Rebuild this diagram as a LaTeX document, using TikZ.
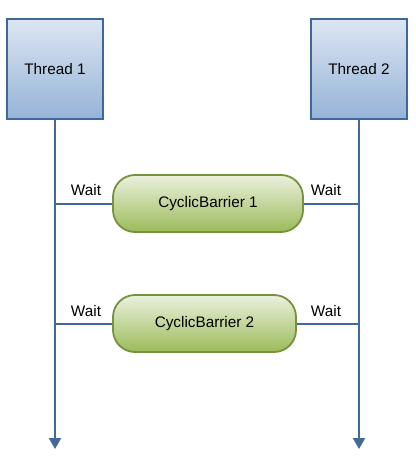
\documentclass[tikz,border=0pt]{standalone}
\usepackage{fontspec}
\setmainfont{Liberation Sans}
\usetikzlibrary{arrows.meta}
\definecolor{threadtop}{HTML}{DCE6F2}
\definecolor{threadbottom}{HTML}{95B3D7}
\definecolor{threadline}{HTML}{3F6797}
\definecolor{barriertop}{HTML}{EBF1DE}
\definecolor{barrierbottom}{HTML}{9BBB59}
\definecolor{barrierline}{HTML}{76923C}
\definecolor{flow}{HTML}{41699B}

\begin{document}
\begin{tikzpicture}[x=1pt,y=-1pt,
thread/.style={draw=threadline, line width=1.8pt, top color=threadtop, bottom color=threadbottom,
  minimum width=96pt, minimum height=100pt, inner sep=0pt, font=\fontsize{15.3}{18}\selectfont},
barrier/.style={draw=barrierline, line width=1.8pt, top color=barriertop, bottom color=barrierbottom,
  rounded corners=22pt, minimum height=57pt, inner sep=0pt, font=\fontsize{15.3}{18}\selectfont},
lifeline/.style={draw=flow, line width=2.2pt, -{Triangle[width=12pt,length=11pt]}},
link/.style={draw=flow, line width=2pt},
lbl/.style={font=\fontsize{15.3}{18}\selectfont, inner sep=0pt}]
\useasboundingbox[fill=white] (0,0) rectangle (415,465);

\coordinate (end1) at (55,449);
\coordinate (end2) at (359,449);

\draw[lifeline] (55,119) -- (end1);
\draw[lifeline] (359,119) -- (end2);

\node[thread] (t1) at (55,69) {Thread 1};
\node[thread] (t2) at (359,69) {Thread 2};

\node[barrier, minimum width=190pt] (b1) at (208,203.5) {CyclicBarrier 1};
\node[barrier, minimum width=183pt] (b2) at (204.5,323.5) {CyclicBarrier 2};

\draw[link] (t1.south |- b1.west) -- (b1.west);
\draw[link] (b1.east) -- (t2.south |- b1.east);
\draw[link] (t1.south |- b2.west) -- (b2.west);
\draw[link] (b2.east) -- (t2.south |- b2.east);

\node[lbl] (w1l) at (86,190) {Wait};
\node[lbl] (w1r) at (326,190) {Wait};
\node[lbl] (w2l) at (86,311) {Wait};
\node[lbl] (w2r) at (326,311) {Wait};
\end{tikzpicture}
\end{document}
